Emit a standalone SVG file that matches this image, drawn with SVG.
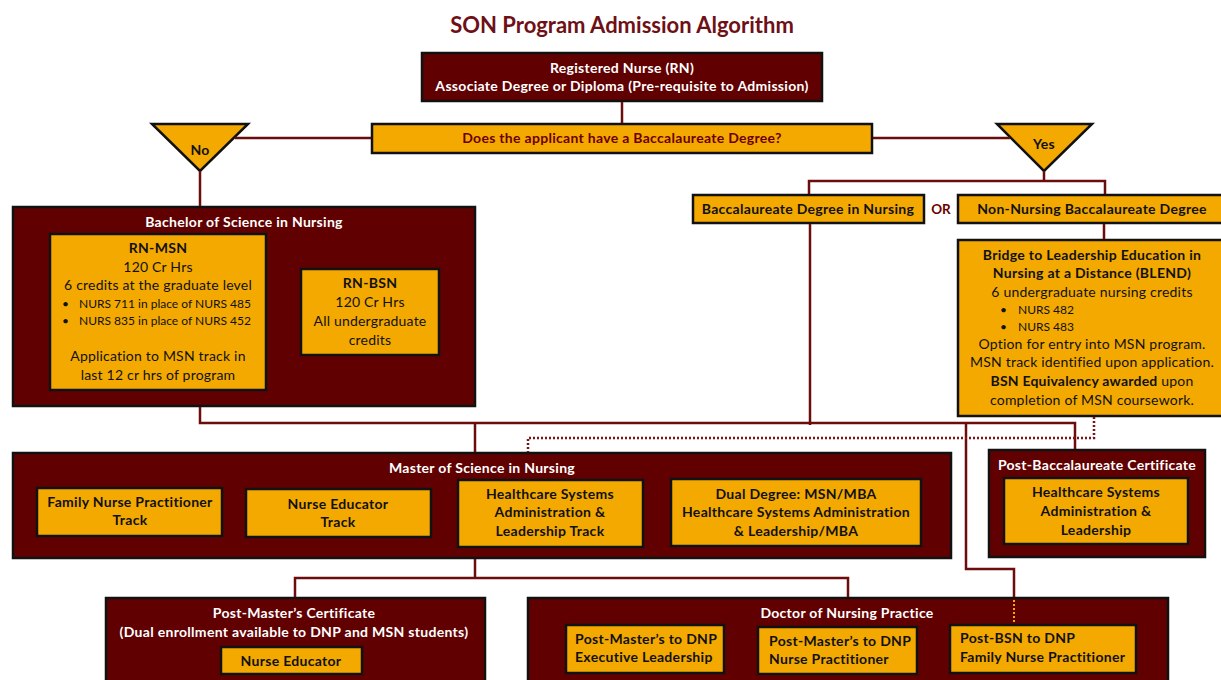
<svg xmlns="http://www.w3.org/2000/svg" width="1221" height="680" viewBox="0 0 1221 680">
<style>
.t{font-family:Lato,"Liberation Sans",sans-serif;}
.dk{fill:#600000;stroke:#111;stroke-width:2.5;}
.or{fill:#f4a900;stroke:#111;stroke-width:2.5;}
.wt{fill:#fff;font-weight:bold;font-size:14px;letter-spacing:0.3px;text-anchor:middle;}
.bt{fill:#111;font-weight:bold;font-size:14px;letter-spacing:0.3px;text-anchor:middle;}
.rt{fill:#111;font-size:14px;letter-spacing:0.2px;text-anchor:middle;}
.sm{fill:#111;font-size:12px;}
.st{text-anchor:start;}
.ln{fill:none;stroke:#6b0d0d;stroke-width:2.5;}
.dt{fill:none;stroke:#7a1515;stroke-width:2.5;stroke-dasharray:2 2;}
</style>
<rect width="1221" height="680" fill="#fff"/>
<text class="t" x="622" y="33" font-size="22" font-weight="bold" fill="#6e1015" text-anchor="middle">SON Program Admission Algorithm</text>

<g id="rn">
<rect class="dk" x="422" y="53" width="400" height="48"/>
<text class="t wt" x="622" y="73">Registered Nurse (RN)</text>
<text class="t wt" x="622" y="91">Associate Degree or Diploma (Pre-requisite to Admission)</text>
</g>

<g id="question">
<rect class="or" x="372" y="124" width="500" height="29"/>
<text class="t bt" x="622" y="143" style="fill:#6b0000">Does the applicant have a Baccalaureate Degree?</text>
</g>

<g id="no">
<polygon class="or" points="152,124 248,124 200,171"/>
<text class="t bt" x="200" y="155">No</text>
</g>

<g id="yes">
<polygon class="or" points="997,124 1092,124 1044,171"/>
<text class="t bt" x="1044" y="149">Yes</text>
</g>

<g id="bdn">
<rect class="or" x="693" y="195" width="231" height="28"/>
<text class="t bt" x="808" y="214">Baccalaureate Degree in Nursing</text>
</g>
<text class="t" x="941" y="214" font-size="13.5" font-weight="bold" fill="#6b0000" text-anchor="middle">OR</text>

<g id="nonnursing">
<rect class="or" x="958" y="195" width="270" height="28"/>
<text class="t bt" x="1092" y="214">Non-Nursing Baccalaureate Degree</text>
</g>

<g id="blend">
<rect class="or" x="958" y="240" width="270" height="176"/>
<text class="t bt" x="1092" y="260">Bridge to Leadership Education in</text>
<text class="t bt" x="1092" y="278">Nursing at a Distance (BLEND)</text>
<text class="t rt" x="1092" y="297">6 undergraduate nursing credits</text>
<text class="t sm" x="1000" y="314">•</text>
<text class="t sm" x="1018" y="314">NURS 482</text>
<text class="t sm" x="1000" y="331">•</text>
<text class="t sm" x="1018" y="331">NURS 483</text>
<text class="t rt" x="1092" y="349">Option for entry into MSN program.</text>
<text class="t rt" x="1092" y="367">MSN track identified upon application.</text>
<text class="t rt" x="1092" y="386"><tspan font-weight="bold">BSN Equivalency awarded</tspan> upon</text>
<text class="t rt" x="1092" y="405">completion of MSN coursework.</text>
</g>

<g id="bsn">
<rect class="dk" x="13" y="207" width="462" height="199"/>
<text class="t wt" x="244" y="227">Bachelor of Science in Nursing</text>
</g>

<g id="rnmsn">
<rect class="or" x="50" y="234" width="216" height="156"/>
<text class="t bt" x="158" y="253">RN-MSN</text>
<text class="t rt" x="158" y="272">120 Cr Hrs</text>
<text class="t rt" x="158" y="290">6 credits at the graduate level</text>
<text class="t sm" x="62" y="308">•</text>
<text class="t sm" x="79" y="308">NURS 711 in place of NURS 485</text>
<text class="t sm" x="62" y="325">•</text>
<text class="t sm" x="79" y="325">NURS 835 in place of NURS 452</text>
<text class="t rt" x="158" y="361">Application to MSN track in</text>
<text class="t rt" x="158" y="380">last 12 cr hrs of program</text>
</g>

<g id="rnbsn">
<rect class="or" x="301" y="269" width="138" height="86"/>
<text class="t bt" x="370" y="288">RN-BSN</text>
<text class="t rt" x="370" y="307">120 Cr Hrs</text>
<text class="t rt" x="370" y="326">All undergraduate</text>
<text class="t rt" x="370" y="345">credits</text>
</g>

<g id="msn">
<rect class="dk" x="13" y="453" width="938" height="105"/>
<text class="t wt" x="482" y="473">Master of Science in Nursing</text>
</g>

<g id="fnp">
<rect class="or" x="37" y="488" width="185" height="48"/>
<text class="t bt" x="130" y="507">Family Nurse Practitioner</text>
<text class="t bt" x="130" y="525">Track</text>
</g>

<g id="ne">
<rect class="or" x="246" y="489" width="185" height="48"/>
<text class="t bt" x="338" y="509">Nurse Educator</text>
<text class="t bt" x="338" y="527">Track</text>
</g>

<g id="hsal">
<rect class="or" x="458" y="480" width="185" height="67"/>
<text class="t bt" x="550" y="499">Healthcare Systems</text>
<text class="t bt" x="550" y="517">Administration &amp;</text>
<text class="t bt" x="550" y="536">Leadership Track</text>
</g>

<g id="dual">
<rect class="or" x="671" y="479" width="250" height="67"/>
<text class="t bt" x="796" y="499">Dual Degree: MSN/MBA</text>
<text class="t bt" x="796" y="517">Healthcare Systems Administration</text>
<text class="t bt" x="796" y="536">&amp; Leadership/MBA</text>
</g>

<g id="postbacc">
<rect class="dk" x="989" y="450" width="216" height="107"/>
<text class="t wt" x="1097" y="470">Post-Baccalaureate Certificate</text>
<rect class="or" x="1004" y="478" width="184" height="66"/>
<text class="t bt" x="1096" y="497">Healthcare Systems</text>
<text class="t bt" x="1096" y="516">Administration &amp;</text>
<text class="t bt" x="1096" y="535">Leadership</text>
</g>

<g id="pmc">
<rect class="dk" x="106" y="598" width="379" height="95"/>
<text class="t wt" x="294" y="618">Post-Master’s Certificate</text>
<text class="t wt" x="294" y="637">(Dual enrollment available to DNP and MSN students)</text>
<rect class="or" x="221" y="647" width="141" height="27"/>
<text class="t bt" x="291" y="666">Nurse Educator</text>
</g>

<g id="dnp">
<rect class="dk" x="528" y="598" width="640" height="95"/>
<text class="t wt" x="847" y="618">Doctor of Nursing Practice</text>
</g>

<g id="dnp-exec">
<rect class="or" x="566" y="625" width="158" height="48"/>
<text class="t bt st" x="575" y="644">Post-Master’s to DNP</text>
<text class="t bt st" x="575" y="662">Executive Leadership</text>
</g>

<g id="dnp-np">
<rect class="or" x="758" y="627" width="159" height="47"/>
<text class="t bt st" x="769" y="646">Post-Master’s to DNP</text>
<text class="t bt st" x="769" y="664">Nurse Practitioner</text>
</g>

<g id="dnp-fnp">
<rect class="or" x="950" y="625" width="186" height="48"/>
<text class="t bt st" x="960" y="643">Post-BSN to DNP</text>
<text class="t bt st" x="960" y="662">Family Nurse Practitioner</text>
</g>

<g id="connectors">
<path class="ln" d="M622,102 V123"/>
<path class="ln" d="M371,138 H235"/>
<path class="ln" d="M873,138 H1010"/>
<path class="ln" d="M200,171 V206"/>
<path class="ln" d="M1044,171 V181 M809,194 V181 H1105 V194"/>
<path class="ln" d="M1104,224 V239"/>
<path class="ln" d="M810,224 V425"/>
<path class="ln" d="M200,407 V423 H1075 V449"/>
<path class="ln" d="M475,423 V452"/>
<path class="ln" d="M966,423 V569 H1014 V597"/>
<path class="dt" d="M1094,417 V438 H528 V452"/>
<path d="M1014,600 V624" fill="none" stroke="#f4a900" stroke-width="2" stroke-dasharray="2 2"/>
<path class="ln" d="M475,559 V578 M295,597 V578 H848 V597"/>
</g>
</svg>
